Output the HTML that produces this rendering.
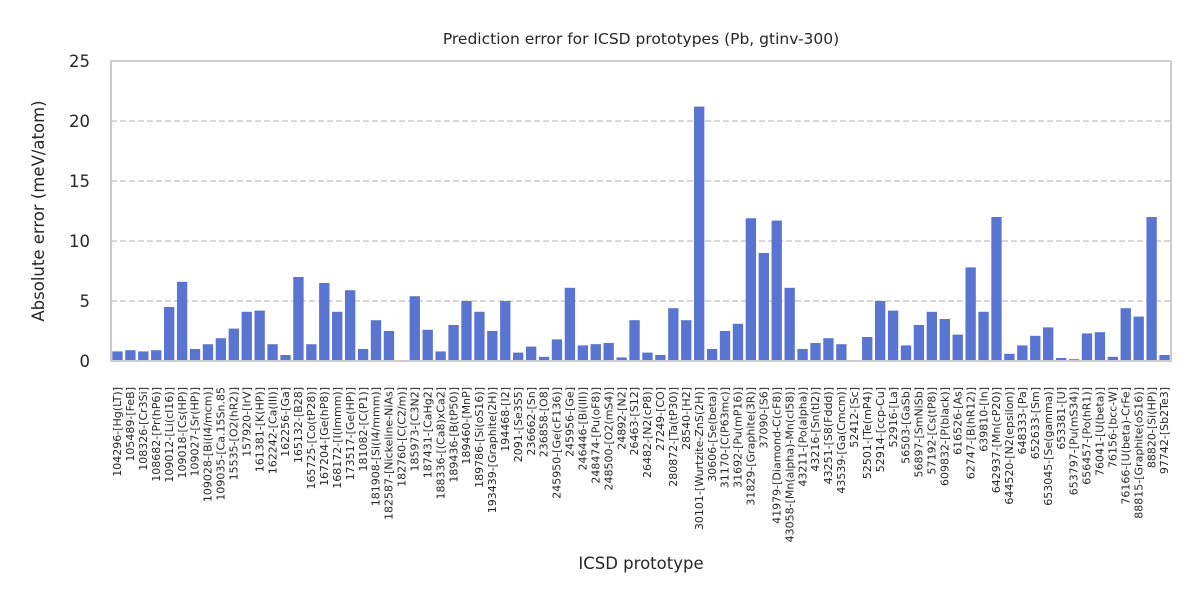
<!DOCTYPE html>
<html><head><meta charset="utf-8"><style>
body{margin:0;background:#fff}
svg{display:block;font-family:"DejaVu Sans","Liberation Sans",sans-serif}
</style></head><body>
<svg id="chart" width="1200" height="600">
<text x="641" y="44" font-size="15.5" text-anchor="middle" fill="#262626">Prediction error for ICSD prototypes (Pb, gtinv-300)</text>
<text transform="translate(44,211) rotate(-90)" font-size="16.5" text-anchor="middle" fill="#262626">Absolute error (meV/atom)</text>
<text x="641" y="569" font-size="16.5" text-anchor="middle" fill="#262626">ICSD prototype</text>
<g id="grid"></g><g id="bars"></g><g id="yticks"></g><g id="xticks"></g>
<rect x="111" y="61" width="1060" height="300" fill="none" stroke="#cccccc" stroke-width="2"/>
</svg>
<script>
const categories=["104296-[Hg(LT)]","105489-[FeB]","108326-[Cr3Si]","108682-[Pr(hP6)]","109012-[Li(cI16)]","109018-[Cs(HP)]","109027-[Sr(HP)]","109028-[Bi(I4/mcm)]","109035-[Ca.15Sn.85","15535-[O2(hR2)]","157920-[IrV]","161381-[K(HP)]","162242-[Ca(III)]","162256-[Ga]","165132-[B28]","165725-[Co(tP28)]","167204-[Ge(hP8)]","168172-[I(Immm)]","173517-[Ge(HP)]","181082-[C(P1)]","181908-[Si(I4/mmm)]","182587-[Nickeline-NiAs]","182760-[C(C2/m)]","185973-[C3N2]","187431-[CaHg2]","188336-[(Ca8)xCa2]","189436-[B(tP50)]","189460-[MnP]","189786-[Si(oS16)]","193439-[Graphite(2H)]","194468-[I2]","2091-[Se3S5]","236662-[Sn]","236858-[O8]","245950-[Ge(cF136)]","245956-[Ge]","246446-[Bi(III)]","248474-[Pu(oF8)]","248500-[O2(mS4)]","24892-[N2]","26463-[S12]","26482-[N2(cP8)]","27249-[CO]","280872-[Ta(tP30)]","28540-[H2]","30101-[Wurtzite-ZnS(2H)]","30606-[Se(beta)]","31170-[C(P63mc)]","31692-[Pu(mP16)]","31829-[Graphite(3R)]","37090-[S6]","41979-[Diamond-C(cF8)]","43058-[Mn(alpha)-Mn(cI58)]","43211-[Po(alpha)]","43216-[Sn(tI2)]","43251-[S8(Fddd)]","43539-[Ga(Cmcm)]","52412-[Sc]","52501-[Te(mP4)]","52914-[ccp-Cu]","52916-[La]","56503-[GaSb]","56897-[SmNiSb]","57192-[Cs(tP8)]","609832-[P(black)]","616526-[As]","62747-[B(hR12)]","639810-[In]","642937-[Mn(cP20)]","644520-[N2(epsilon)]","648333-[Pa]","652633-[Sm]","653045-[Se(gamma)]","653381-[U]","653797-[Pu(mS34)]","656457-[Po(hR1)]","76041-[U(beta)]","76156-[bcc-W]","76166-[U(beta)-CrFe]","88815-[Graphite(oS16)]","88820-[Si(HP)]","97742-[Sb2Te3]"];
const errors=[0.8,0.9,0.8,0.9,4.5,6.6,1.0,1.4,1.9,2.7,4.1,4.2,1.4,0.5,7.0,1.4,6.5,4.1,5.9,1.0,3.4,2.5,0.05,5.4,2.6,0.8,3.0,5.0,4.1,2.5,5.0,0.7,1.2,0.35,1.8,6.1,1.3,1.4,1.5,0.3,3.4,0.7,0.5,4.4,3.4,21.2,1.0,2.5,3.1,11.9,9.0,11.7,6.1,1.0,1.5,1.9,1.4,0.05,2.0,5.0,4.2,1.3,3.0,4.1,3.5,2.2,7.8,4.1,12.0,0.6,1.3,2.1,2.8,0.25,0.15,2.3,2.4,0.35,4.4,3.7,12.0,0.5];
const yTicks=[0,5,10,15,20,25];
const NS="http://www.w3.org/2000/svg";
const X0=111,X1=1171,Y0=361,Y1=61,YMAX=25;
const step=(X1-X0)/categories.length;
const xs=i=>X0+step*(i+0.5);
const ys=v=>Y0-(v/YMAX)*(Y0-Y1);
function mk(t,a,p){const e=document.createElementNS(NS,t);for(const k in a)e.setAttribute(k,a[k]);p.appendChild(e);return e;}
const g=document.getElementById('grid'),b=document.getElementById('bars'),yt=document.getElementById('yticks'),xt=document.getElementById('xticks');
yTicks.forEach(v=>{
  if(v>0&&v<YMAX){const l=mk('line',{x1:X0,x2:X1,y1:ys(v),y2:ys(v),stroke:'#cccccc','stroke-width':1.5,'stroke-dasharray':'6,3'},g);
  
  }
  const t=mk('text',{x:90,y:ys(v)+6,'font-size':16.5,'text-anchor':'end',fill:'#262626'},yt);t.textContent=v;
  
  
});
errors.forEach((v,i)=>{
  const w=step*0.8;
  const r=mk('rect',{x:xs(i)-w/2,y:ys(v),width:w,height:Y0-ys(v),fill:'#5a74d2'},b);
  
  
});
categories.forEach((c,i)=>{
  const t=mk('text',{transform:`translate(${xs(i)+3.7},387) rotate(-90)`,'font-size':11,'text-anchor':'end',fill:'#262626'},xt);
  t.textContent=c;
  
  
});
</script>
</body></html>
